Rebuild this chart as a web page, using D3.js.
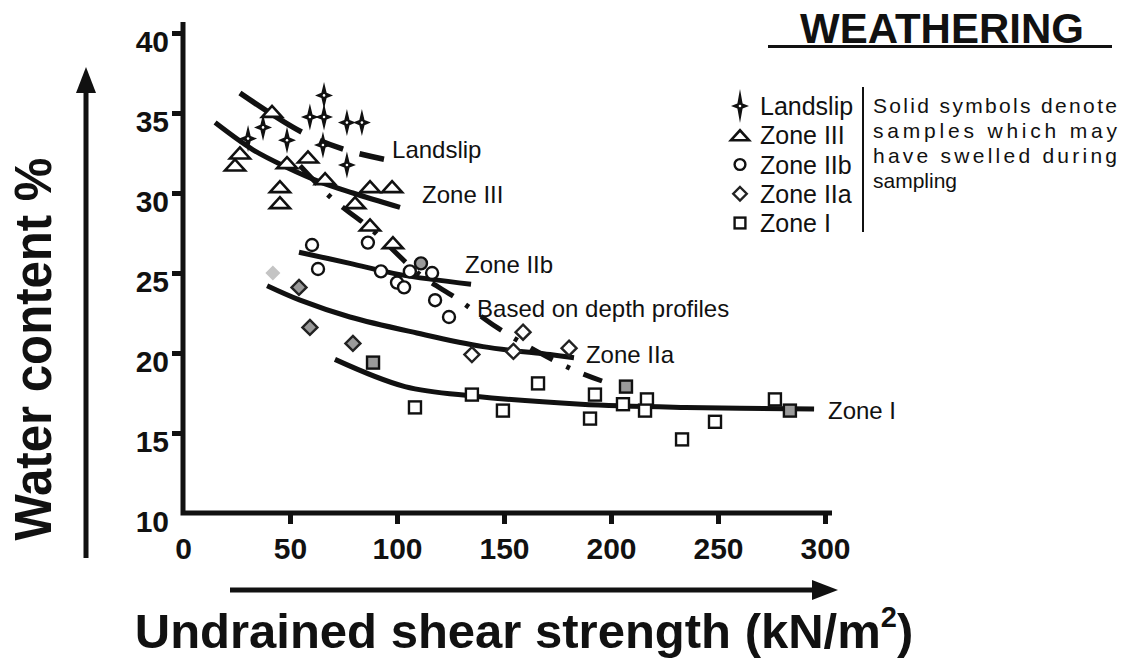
<!DOCTYPE html>
<html>
<head>
<meta charset="utf-8">
<script src="https://cdnjs.cloudflare.com/ajax/libs/d3/7.8.5/d3.min.js"></script>
<style>
body { margin: 0; background: #fff; }
text { font-family: "Liberation Sans", Arial, sans-serif; fill: #111; }
</style>
</head>
<body>
<div id="chart-area"></div>
<script>
const WIDTH = 1136
const HEIGHT = 662

// tick values
const strengthTicks = [0, 50, 100, 150, 200, 250, 300]
const waterTicks = [10, 15, 20, 25, 30, 35, 40]

// samples: [shear strength kN/m2, water content %, sample flag (0 open, 1 solid, 2 pale)]
const landslip = [[30.4, 33.4], [37.4, 34.1], [48.6, 33.3], [59.3, 34.75], [65.9, 36.1], [65.9, 34.75],
	[65.4, 33], [76.6, 34.4], [83.6, 34.4], [76.6, 31.75]]
const zoneIII = [[24.3, 31.75], [26.6, 32.5], [41.6, 35.1], [45.3, 30.4], [45.3, 29.4], [48.6, 31.9],
	[58.4, 32.25], [66.4, 30.9], [80.4, 29.4], [87.4, 30.4], [97.7, 30.4], [87.4, 28], [98.1, 26.9]]
const zoneIIb = [[60.3, 26.75, 0], [86.4, 26.9, 0], [63.1, 25.25, 0], [92.5, 25.1, 0], [100, 24.4, 0],
	[103.3, 24.1, 0], [106, 25.1, 0], [111.2, 25.6, 1], [116.4, 25, 0], [117.8, 23.3, 0], [124.3, 22.25, 0]]
const zoneIIa = [[42, 25, 2], [54.2, 24.1, 1], [59.3, 21.6, 1], [79.4, 20.6, 1], [135, 19.9, 0],
	[154.4, 20.1, 0], [158.9, 21.3, 0], [180.4, 20.3, 0]]
const zoneI = [[88.8, 19.4, 1], [108.4, 16.6, 0], [135, 17.4, 0], [149.5, 16.4, 0], [165.9, 18.1, 0],
	[192.5, 17.4, 0], [190.2, 15.9, 0], [207, 17.9, 1], [205.6, 16.8, 0], [216.8, 17.1, 0],
	[215.9, 16.4, 0], [233.2, 14.6, 0], [248.6, 15.7, 0], [276.6, 17.1, 0], [283.6, 16.4, 1]]

// trend curves
const landslipCurve = [[26.6, 36.25], [55.6, 33.8], [75.7, 32.7], [94.4, 32.1]]
const zoneIIICurve = [[15, 34.4], [32.7, 32.7], [48.6, 31.6], [64, 30.7], [79.4, 30], [101.4, 29.1]]
const zoneIIbCurve = [[54.2, 26.3], [78, 25.6], [101.4, 24.9], [134.6, 24.3]]
const zoneIIaCurve = [[39.3, 24.2], [54.7, 23.3], [78, 22.25], [109.3, 21.25], [140.2, 20.4], [171.5, 19.9], [182.7, 19.7]]
const zoneICurve = [[71, 19.6], [103.7, 17.9], [136.4, 17.3], [186, 16.8], [235, 16.6], [294.9, 16.5]]
const depthCurve = [[54.7, 31.7], [70.1, 29.6], [87.4, 27.8], [110.7, 24.9], [128, 23.4], [146.7, 21.6],
	[165.4, 20.1], [183.2, 18.9], [195.8, 18.25]]

// curve labels (anchored in data units)
const curveLabels = [
	{ text: "Landslip", at: [97.7, 32.2] },
	{ text: "Zone III", at: [111.7, 29.4] },
	{ text: "Zone IIb", at: [131.8, 25] },
	{ text: "Based on depth profiles", at: [137.4, 22.25] },
	{ text: "Zone IIa", at: [188.3, 19.4] },
	{ text: "Zone I", at: [301.4, 15.9] }
]

const legendNames = ["Landslip", "Zone III", "Zone IIb", "Zone IIa", "Zone I"]
const legendTypes = ["star", "triangle", "circle", "diamond", "square"]
const noteLines = ["Solid symbols denote", "samples which may", "have swelled during", "sampling"]

const svg = d3.select("#chart-area").append("svg")
	.attr("width", WIDTH)
	.attr("height", HEIGHT)

// scales
const x = d3.scaleLinear().domain([0, 300]).range([183, 825])
const y = d3.scaleLinear().domain([10, 40]).range([513, 33])

const fillFor = s => s === 1 ? "#9a9a9a" : s === 2 ? "#c4c4c4" : "#fff"

function marker(g, type, s, big) {
	const k = big ? 0.9 : 1
	if (type === "star") {
		const hh = big ? 17 : 13.5, hw = 9, r = 2.6
		g.append("path")
			.attr("d", `M0,${-hh}L${r},${-r}L${hw},0L${r},${r}L0,${hh}L${-r},${r}L${-hw},0L${-r},${-r}Z`)
			.attr("fill", "#111")
		g.append("circle").attr("r", 1.3).attr("fill", "#fff")
	} else if (type === "triangle") {
		const w = 10 * k, h = 5.5 * k
		g.append("path").attr("d", `M${-w},${h}L${w},${h}L0,${-h}Z`)
			.attr("fill", "#fff").attr("stroke", "#111").attr("stroke-width", 2.6)
	} else if (type === "circle") {
		g.append("circle").attr("r", 6 * k)
			.attr("fill", fillFor(s)).attr("stroke", "#111").attr("stroke-width", 2.4)
	} else if (type === "diamond") {
		const d = 7.5 * k
		g.append("path").attr("d", `M0,${-d}L${d},0L0,${d}L${-d},0Z`)
			.attr("fill", fillFor(s))
			.attr("stroke", s === 2 ? "none" : "#222").attr("stroke-width", 2.4)
	} else {
		const d = 6 * k
		g.append("rect").attr("x", -d).attr("y", -d).attr("width", 2 * d).attr("height", 2 * d)
			.attr("fill", fillFor(s)).attr("stroke", "#111").attr("stroke-width", 2.4)
	}
}

// axes
const yAxisCall = d3.axisLeft(y).tickValues(waterTicks).tickSize(11).tickSizeOuter(0).tickPadding(3)
const xAxisCall = d3.axisBottom(x).tickValues(strengthTicks).tickSize(11).tickSizeOuter(0).tickPadding(14)

const yAxis = svg.append("g").attr("transform", `translate(${x(0)},0)`).call(yAxisCall)
const xAxis = svg.append("g").attr("transform", `translate(0,${y(10)})`).call(xAxisCall)

;[yAxis, xAxis].forEach(a => {
	a.select(".domain").remove()
	a.selectAll(".tick line").attr("stroke", "#111").attr("stroke-width", 5)
	a.selectAll(".tick text")
		.attr("fill", "#111")
		.style("font-family", "\"Liberation Sans\", Arial, sans-serif")
		.style("font-size", "30px")
		.style("font-weight", "bold")
})
yAxis.selectAll(".tick text").attr("dy", "0.62em")
yAxis.selectAll(".tick").filter(d => d === 10).select("line").remove()
xAxis.selectAll(".tick").filter(d => d === 0).select("line").remove()

// axis lines
svg.append("path")
	.attr("d", `M${x(0)},${y(40) - 11}V${y(10)}H${x(300) + 7}`)
	.attr("fill", "none")
	.attr("stroke", "#111")
	.attr("stroke-width", 5)
	.attr("stroke-linejoin", "miter")

// trend curves
const line = d3.line()
	.x(d => x(d[0]))
	.y(d => y(d[1]))
	.curve(d3.curveCatmullRom)

const curves = svg.append("g").attr("fill", "none").attr("stroke", "#111").attr("stroke-width", 5)
;[zoneIIICurve, zoneIIbCurve, zoneIIaCurve, zoneICurve].forEach(c => {
	curves.append("path").attr("d", line(c))
})
curves.append("path").attr("d", line(landslipCurve))
	.attr("stroke-width", 5.5)
	.attr("stroke-dasharray", "73,20,25,17,25,20")
curves.append("path").attr("d", line(depthCurve))
	.attr("stroke-width", 5)
	.attr("stroke-dasharray", "25,15,4,15")

// samples
const groups = [
	[landslip, "star"], [zoneIII, "triangle"], [zoneIIb, "circle"], [zoneIIa, "diamond"], [zoneI, "square"]
]
groups.forEach(([data, type]) => {
	const g = svg.append("g")
	data.forEach(d => {
		marker(g.append("g").attr("transform", `translate(${x(d[0])},${y(d[1])})`), type, d[2] || 0, false)
	})
})

// curve labels
svg.append("g").selectAll("text")
	.data(curveLabels)
	.join("text")
	.attr("x", d => x(d.at[0]))
	.attr("y", d => y(d.at[1]))
	.attr("font-size", "24px")
	.text(d => d.text)

// title
svg.append("text")
	.attr("x", 942)
	.attr("y", 43)
	.attr("text-anchor", "middle")
	.attr("font-size", "42px")
	.attr("font-weight", "bold")
	.text("WEATHERING")
svg.append("line")
	.attr("x1", 768).attr("x2", 1112)
	.attr("y1", 46.5).attr("y2", 46.5)
	.attr("stroke", "#111").attr("stroke-width", 3)

// legend
const legendY = d3.scalePoint().domain(legendNames).range([106, 223])
const legend = svg.append("g")
legendNames.forEach((name, i) => {
	const row = legend.append("g").attr("transform", `translate(740,${legendY(name)})`)
	marker(row.append("g"), legendTypes[i], 0, true)
	row.append("text")
		.attr("x", 20)
		.attr("y", 9)
		.attr("font-size", "25px")
		.text(name)
})
legend.append("line")
	.attr("x1", 863).attr("x2", 863)
	.attr("y1", 87).attr("y2", 232)
	.attr("stroke", "#111").attr("stroke-width", 2)

legend.selectAll(".note")
	.data(noteLines)
	.join("text")
	.attr("class", "note")
	.attr("x", 873)
	.attr("y", (d, i) => 113 + i * 25)
	.attr("font-size", "21px")
	.each(function (d, i) {
		if (i < noteLines.length - 1) {
			d3.select(this).attr("textLength", 244).attr("lengthAdjust", "spacing")
		}
	})
	.text(d => d)

// axis arrows and titles
svg.append("line")
	.attr("x1", 86).attr("x2", 86)
	.attr("y1", 558).attr("y2", 88)
	.attr("stroke", "#111").attr("stroke-width", 5)
svg.append("path")
	.attr("d", "M86,67L96,93L76,93Z")
	.attr("fill", "#111")

svg.append("line")
	.attr("x1", 230).attr("x2", 815)
	.attr("y1", 590).attr("y2", 590)
	.attr("stroke", "#111").attr("stroke-width", 5)
svg.append("path")
	.attr("d", "M838,590L812,580L812,600Z")
	.attr("fill", "#111")

svg.append("text")
	.attr("transform", "translate(51,349) rotate(-90)")
	.attr("text-anchor", "middle")
	.attr("font-size", "51px")
	.attr("font-weight", "bold")
	.attr("textLength", 383)
	.attr("lengthAdjust", "spacingAndGlyphs")
	.text("Water content %")

const xTitle = svg.append("text")
	.attr("x", 524)
	.attr("y", 648)
	.attr("text-anchor", "middle")
	.attr("font-size", "49px")
	.attr("font-weight", "bold")
xTitle.append("tspan").text("Undrained shear strength (kN/m")
xTitle.append("tspan").attr("font-size", "29px").attr("dy", "-21").text("2")
xTitle.append("tspan").attr("dy", "21").text(")")
</script>
</body>
</html>
